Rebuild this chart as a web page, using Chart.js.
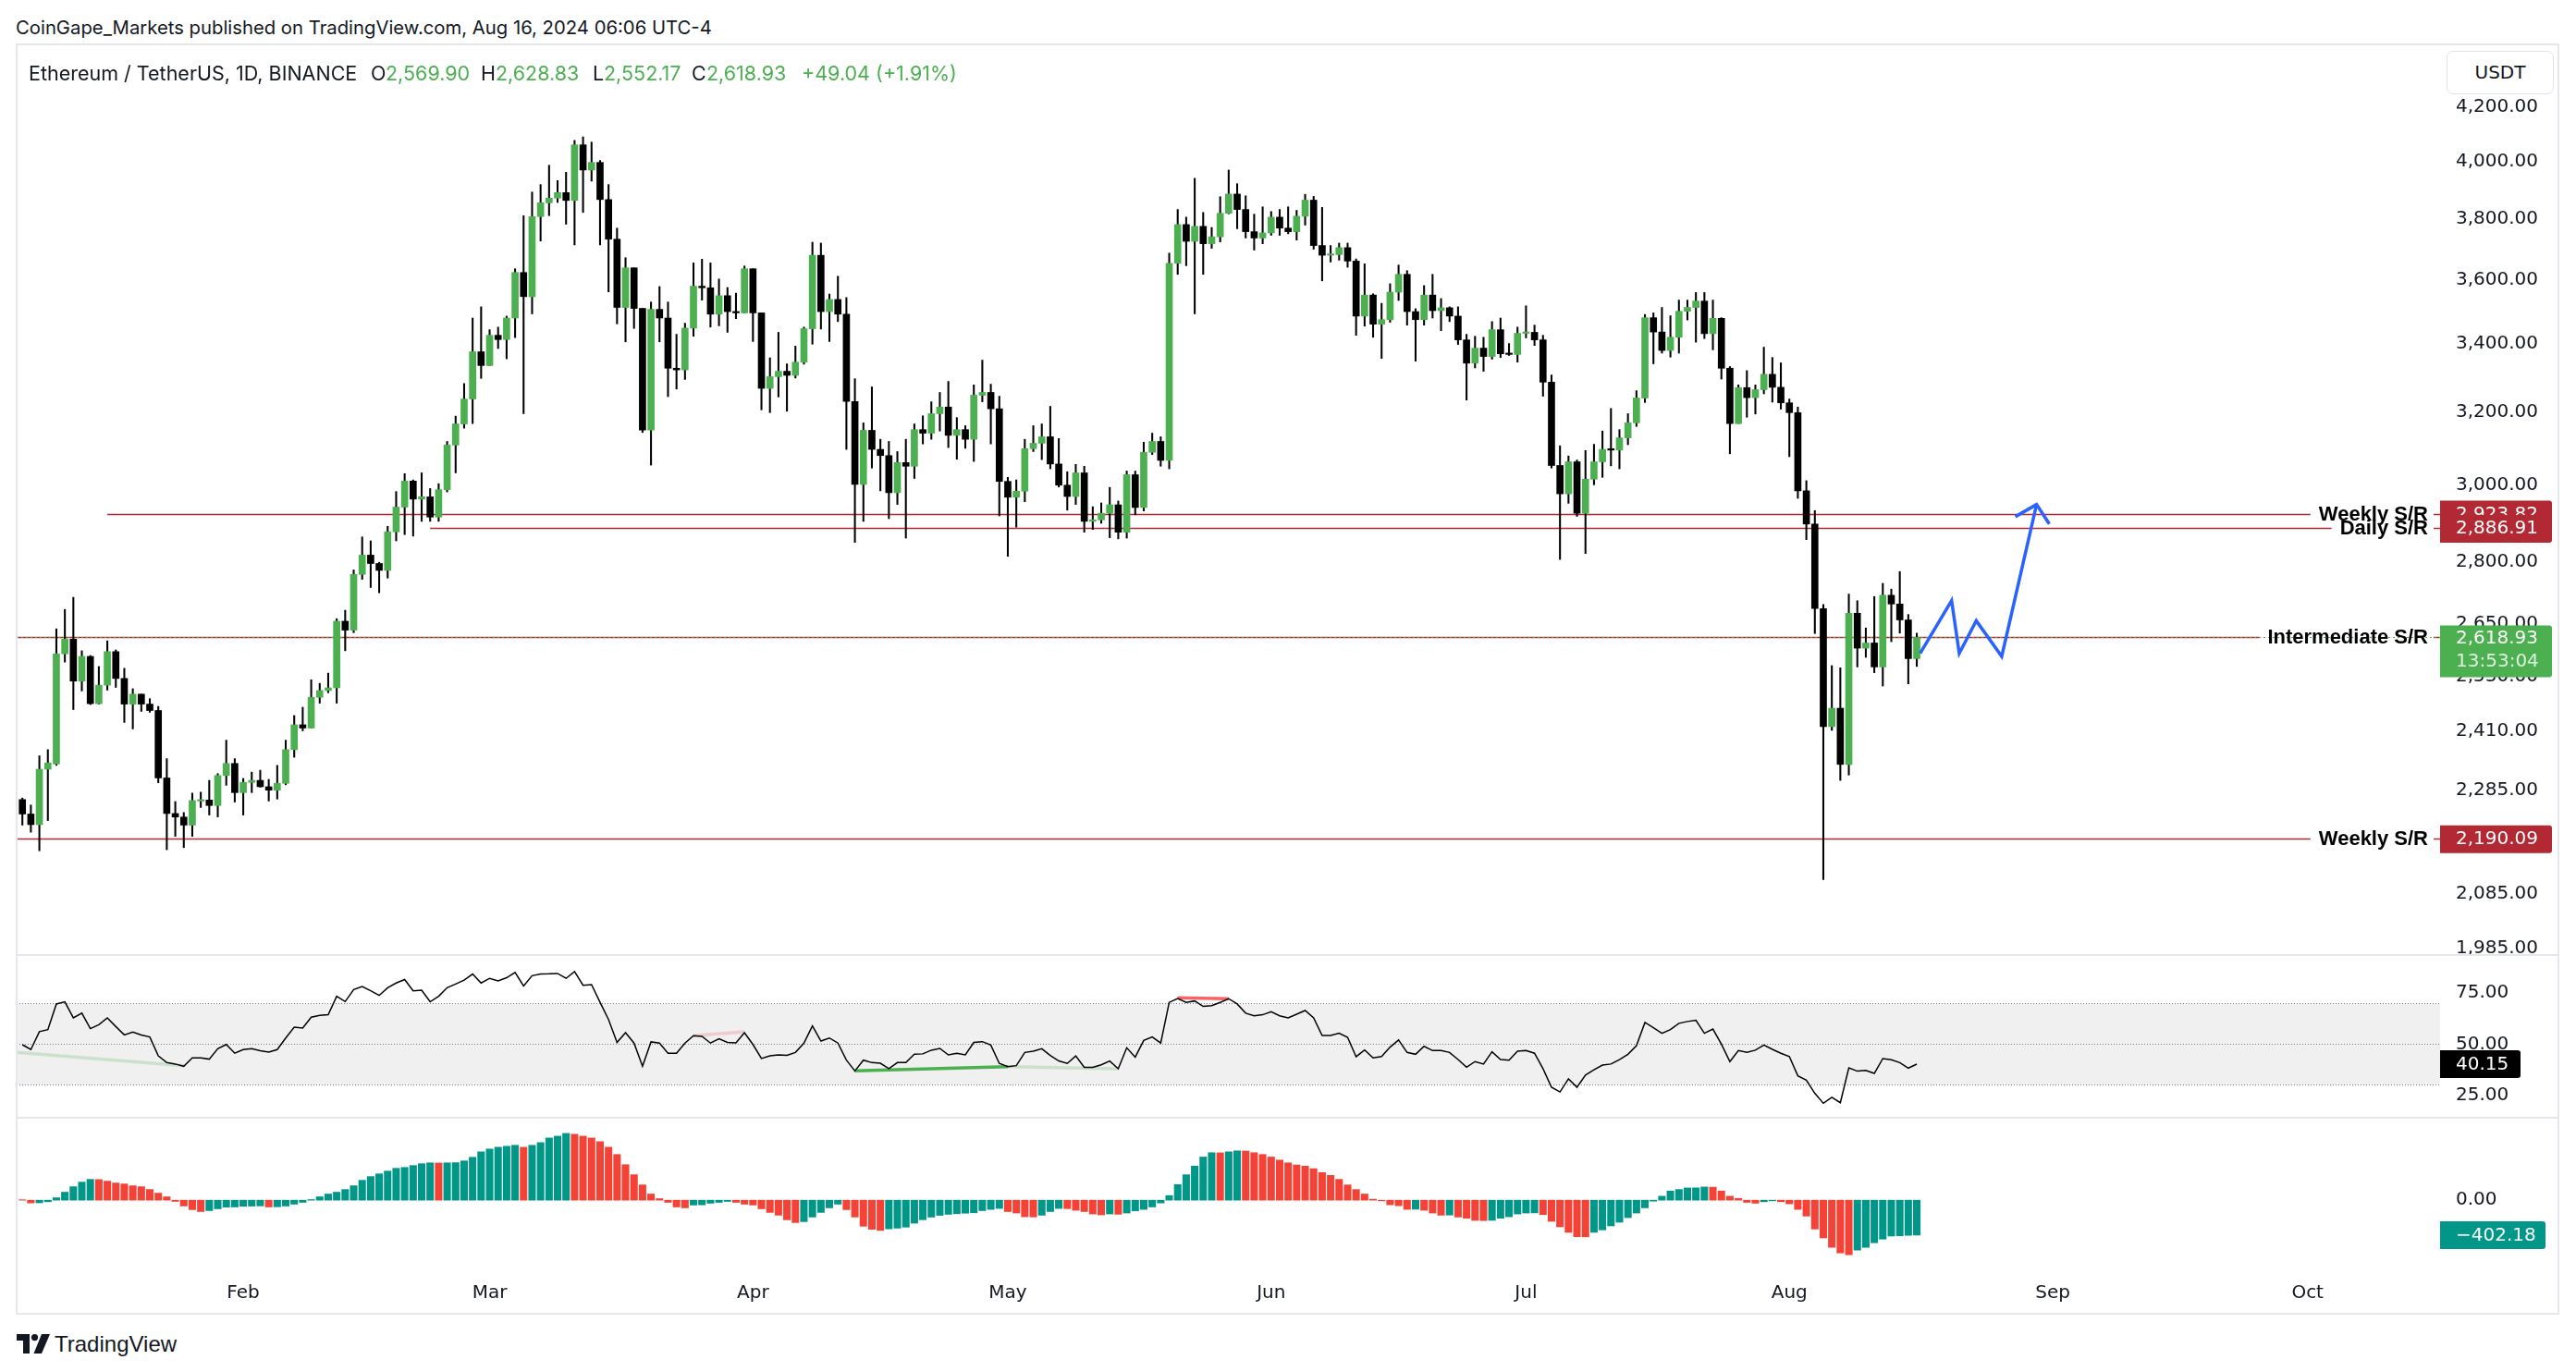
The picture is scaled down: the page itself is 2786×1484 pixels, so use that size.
<!DOCTYPE html>
<html>
<head>
<meta charset="utf-8">
<script src="https://cdn.jsdelivr.net/npm/chart.js@4.4.1/dist/chart.umd.min.js"></script>
<style>
  html,body{margin:0;padding:0;background:#fff;}
  body{width:2786px;height:1484px;position:relative;overflow:hidden;color:#131722;}
  canvas{position:absolute;display:block;}
  #c1{left:18px;top:48px;}
  #c2{left:18px;top:1034px;}
  #c3{left:18px;top:1210px;}
  .frame{position:absolute;left:17px;top:47px;width:2751px;height:1375px;border:2px solid #e6e7ec;box-sizing:border-box;pointer-events:none;}
  .sep{position:absolute;left:18px;width:2749px;height:2px;background:#e6e7ec;}
  .t{position:absolute;white-space:nowrap;line-height:24px;font-family:Inter,"DejaVu Sans",sans-serif;font-size:21.5px;}
  .h{font-size:20.3px;}
  .g{color:#4caf50;}
  .usdt{position:absolute;left:2646px;top:55px;width:116px;height:47px;border:1.5px solid #e0e3eb;border-radius:7px;box-sizing:border-box;
        font-family:"DejaVu Sans",sans-serif;font-size:20px;line-height:44px;text-align:center;color:#131722;background:#fff;}
  .logo{position:absolute;left:18px;top:1443px;}
  .logotext{position:absolute;left:59px;top:1440px;font-family:"Liberation Sans",Arial,sans-serif;font-size:24px;line-height:28px;color:#131722;}
</style>
</head>
<body>
<canvas id="c1" width="2749" height="985"></canvas>
<canvas id="c2" width="2749" height="175"></canvas>
<canvas id="c3" width="2749" height="211"></canvas>
<div class="sep" style="top:1032px"></div>
<div class="sep" style="top:1208px"></div>
<div class="frame"></div>

<div class="t h" style="left:17px;top:18px;">CoinGape_Markets published on TradingView.com, Aug 16, 2024 06:06 UTC-4</div>
<div class="t" style="left:31px;top:67px;">Ethereum / TetherUS, 1D, BINANCE</div>
<div class="t" style="left:401px;top:67px;">O</div><div class="t g" style="left:417px;top:67px;">2,569.90</div>
<div class="t" style="left:520px;top:67px;">H</div><div class="t g" style="left:536px;top:67px;">2,628.83</div>
<div class="t" style="left:641px;top:67px;">L</div><div class="t g" style="left:653px;top:67px;">2,552.17</div>
<div class="t" style="left:748px;top:67px;">C</div><div class="t g" style="left:764px;top:67px;">2,618.93</div>
<div class="t g" style="left:867px;top:67px;">+49.04 (+1.91%)</div>
<div class="usdt">USDT</div>

<svg class="logo" width="36" height="22" viewBox="0 0 36 22">
  <path d="M0 0 H14 V21 H7 V7 H0 Z" fill="#131722"/>
  <circle cx="19.5" cy="3.6" r="3.6" fill="#131722"/>
  <path d="M27 0 H36 L27 21 H18.5 Z" fill="#131722"/>
</svg>
<div class="logotext">TradingView</div>

<script>
// ---------------- DATA ----------------
// Daily candles, ETH/USDT (Binance), 6 Jan 2024 .. 16 Aug 2024, index 0 = 6 Jan
const open = [
2267,2238,2217,2329,2340,2581,2615,2519,2575,2469,
2510,2586,2525,2468,2490,2468,2454,2311,2239,2232,
2216,2264,2266,2255,2316,2341,2281,2302,2306,2293,
2286,2300,2370,2423,2416,2483,2498,2504,2657,2636,
2770,2818,2797,2780,2877,2941,3010,2962,2968,2915,
2987,3108,3167,3238,3377,3336,3427,3414,3480,3624,
3547,3809,3856,3872,3891,3864,4060,3970,3997,3867,
3733,3513,3639,3510,3150,3507,3480,3328,3323,3449,
3580,3575,3492,3550,3500,3496,3636,3496,3269,3303,
3319,3307,3346,3447,3680,3500,3538,3492,3231,3001,
3149,3096,3079,2979,3060,3050,3151,3141,3196,3215,
3135,3151,3124,3249,3257,3210,3009,2967,2983,3098,
3113,3131,3056,2999,2969,3032,2904,2908,2925,2947,
2876,3027,2940,3088,3118,3066,3654,3782,3726,3776,
3718,3741,3820,3886,3833,3758,3737,3754,3807,3770,
3758,3810,3865,3712,3680,3682,3705,3661,3486,3552,
3461,3475,3561,3618,3500,3475,3552,3503,3512,3486,
3413,3343,3388,3363,3444,3371,3369,3433,3436,3413,
3287,3052,2976,3062,2925,3015,3062,3096,3094,3128,
3170,3241,3481,3437,3381,3421,3501,3513,3533,3432,
3479,3328,3168,3271,3242,3265,3310,3272,3227,3199,
2984,2897,2687,2419,2459,2339,2676,2594,2606,2551,
2719,2698,2660,2569.90];
const high = [
2270,2256,2357,2370,2639,2685,2714,2588,2577,2552,
2611,2590,2548,2502,2490,2480,2463,2351,2263,2241,
2280,2282,2306,2320,2390,2351,2310,2323,2327,2308,
2337,2390,2443,2461,2522,2514,2537,2663,2683,2781,
2864,2854,2800,2891,2982,3030,3013,3032,2990,3003,
3118,3189,3283,3480,3515,3444,3452,3486,3636,3812,
3893,3919,3987,3933,3962,4076,4089,4070,4004,3919,
3770,3672,3639,3510,3530,3579,3530,3430,3464,3655,
3667,3655,3603,3576,3558,3645,3636,3496,3359,3436,
3341,3394,3452,3723,3720,3555,3612,3544,3297,3170,
3273,3124,3118,3090,3124,3167,3190,3230,3257,3289,
3185,3162,3279,3352,3281,3246,3020,3013,3124,3162,
3167,3217,3126,3035,3055,3050,2942,2952,2993,2957,
3037,3037,3116,3141,3131,3687,3833,3807,3941,3823,
3772,3877,3970,3922,3880,3817,3842,3826,3833,3842,
3830,3885,3878,3840,3712,3720,3720,3668,3652,3556,
3526,3588,3648,3630,3509,3582,3618,3541,3515,3515,
3430,3424,3421,3469,3480,3402,3452,3518,3458,3427,
3308,3106,3078,3067,3093,3110,3147,3211,3151,3196,
3262,3491,3496,3513,3487,3536,3536,3560,3560,3536,
3481,3333,3279,3321,3279,3391,3360,3344,3238,3215,
3011,2932,2697,2554,2549,2722,2706,2641,2716,2748,
2734,2777,2673,2628.83];
const low = [
2216,2202,2166,2225,2337,2562,2456,2497,2467,2468,
2499,2505,2428,2414,2452,2450,2301,2168,2194,2172,
2194,2251,2236,2232,2296,2262,2236,2281,2292,2264,
2268,2297,2354,2410,2416,2470,2493,2470,2588,2630,
2758,2738,2725,2761,2854,2870,2866,2904,2904,2904,
2981,3032,3155,3168,3298,3336,3387,3356,3420,3196,
3493,3727,3812,3857,3783,3714,3823,3931,3714,3562,
3462,3407,3448,3143,3053,3407,3245,3267,3295,3424,
3536,3452,3456,3436,3478,3496,3408,3207,3199,3244,
3203,3299,3340,3400,3446,3408,3469,3096,2850,2904,
3045,2984,2911,2948,2861,3017,3111,3124,3147,3101,
3069,3099,3063,3230,3111,2918,2815,2889,2955,3090,
3068,3043,2994,2933,2948,2876,2883,2899,2862,2859,
2861,2921,2931,3082,3050,3043,3618,3646,3493,3618,
3703,3724,3818,3768,3737,3697,3718,3746,3746,3751,
3730,3780,3700,3597,3658,3664,3641,3427,3455,3421,
3357,3467,3535,3458,3349,3458,3480,3441,3469,3399,
3235,3329,3319,3355,3360,3366,3346,3419,3396,3246,
3045,2807,2951,2917,2822,3000,3020,3051,3043,3109,
3160,3228,3341,3373,3361,3373,3474,3406,3417,3383,
3296,3084,3168,3186,3195,3253,3229,3209,3076,2964,
2857,2628,2111,2411,2306,2317,2551,2573,2538,2508,
2609,2629,2513,2552.17];
const close = [
2238,2217,2329,2342,2581,2615,2519,2575,2469,2510,
2586,2525,2468,2490,2468,2454,2311,2239,2232,2216,
2265,2266,2255,2316,2341,2281,2302,2306,2293,2286,
2300,2370,2423,2416,2483,2498,2504,2657,2636,2770,
2818,2797,2780,2877,2941,3010,2962,2968,2915,2987,
3108,3167,3238,3377,3336,3427,3414,3480,3624,3547,
3809,3856,3872,3891,3864,4060,3970,3997,3867,3733,
3513,3639,3510,3150,3507,3480,3328,3323,3449,3580,
3575,3492,3550,3500,3496,3636,3496,3269,3303,3319,
3307,3346,3447,3680,3500,3538,3492,3231,3001,3149,
3096,3079,2979,3060,3050,3151,3141,3196,3215,3135,
3151,3124,3249,3257,3210,3009,2967,2983,3098,3113,
3131,3056,2999,2969,3032,2904,2908,2925,2947,2876,
3027,2940,3088,3118,3066,3654,3782,3726,3776,3718,
3741,3820,3886,3833,3758,3737,3754,3807,3770,3758,
3810,3865,3712,3680,3682,3705,3661,3486,3552,3461,
3475,3561,3618,3500,3475,3552,3503,3512,3486,3413,
3343,3388,3363,3444,3371,3369,3433,3436,3413,3287,
3052,2976,3062,2925,3015,3062,3096,3094,3128,3170,
3241,3481,3437,3381,3421,3501,3513,3533,3432,3479,
3328,3168,3271,3242,3265,3310,3272,3227,3199,2984,
2897,2687,2419,2459,2339,2676,2594,2606,2551,2719,
2698,2660,2569.90,2618.93];

// RSI(14)
const rsi = [
49.7,47.3,56.1,57.1,69.7,70.8,62.9,65.2,57.6,59.5,
62.9,58.6,54.5,55.9,54.5,53.5,44.2,40.9,40.2,39.1,
43.2,43.2,42.6,47.7,49.8,45.5,47.3,47.7,46.7,46.1,
47.3,53.0,58.3,57.9,63.2,64.1,64.4,73.5,70.9,76.8,
78.3,76.2,73.9,77.7,80.0,81.7,76.2,76.5,70.8,73.5,
77.7,79.5,81.4,84.4,80.0,82.3,81.1,82.6,85.2,78.6,
83.6,84.4,84.5,84.7,82.3,85.6,78.9,79.2,70.5,62.1,
50.8,55.6,50.5,39.1,51.1,50.5,45.5,45.5,50.5,54.1,
53.8,50.5,52.6,50.8,50.6,55.6,49.8,42.9,44.2,44.7,
44.5,45.9,50.5,58.9,51.5,53.0,50.5,42.1,36.8,42.1,
40.9,40.6,37.9,40.9,40.9,45.0,45.2,47.0,47.9,44.7,
45.5,44.7,50.8,51.2,49.5,40.5,38.9,39.4,45.9,46.5,
47.7,44.4,41.7,40.5,44.2,38.6,38.6,39.8,41.7,37.9,
48.2,43.6,51.8,53.5,50.5,70.5,72.4,70.5,71.2,68.5,
68.9,70.5,72.3,69.7,65.2,63.9,64.4,65.9,63.9,62.9,
64.7,66.5,62.9,54.2,54.2,55.3,53.3,43.8,47.1,43.2,
43.9,48.5,52.0,45.9,45.0,48.9,46.8,46.8,45.9,42.4,
38.6,41.4,40.2,46.2,42.4,42.1,46.5,46.8,45.5,37.9,
28.8,26.5,32.9,28.8,34.8,37.4,39.7,40.2,42.4,45.0,
49.2,60.6,58.0,55.3,57.1,60.2,61.1,61.7,55.3,57.4,
50.0,41.4,46.8,45.9,47.0,49.5,47.4,45.5,43.9,34.4,
32.3,25.8,20.9,23.8,21.2,38.3,36.7,37.1,35.6,42.9,
42.3,40.9,38.2,40.15];

// Awesome Oscillator histogram
const ao = [
5,-32,-30,-18,28,92,155,208,240,238,
219,198,187,166,155,123,81,39,-14,-67,
-109,-131,-120,-99,-80,-78,-70,-68,-66,-78,
-76,-67,-46,-25,7,39,71,92,123,166,
229,272,303,335,367,377,399,420,430,428,
430,432,452,494,557,589,610,621,632,610,
632,663,716,737,769,759,737,716,674,610,
526,409,293,176,71,18,-25,-78,-88,-56,
-54,-35,-25,-14,-25,-46,-56,-99,-141,-173,
-226,-258,-247,-194,-141,-88,-46,-109,-194,-300,
-335,-348,-330,-322,-310,-265,-225,-195,-175,-163,
-156,-150,-145,-120,-106,-95,-131,-148,-191,-193,
-173,-131,-95,-97,-116,-131,-159,-169,-159,-162,
-148,-123,-106,-78,-32,53,180,293,392,497,
547,545,557,568,566,547,526,497,462,430,
406,392,363,318,286,240,176,123,71,11,
-7,-53,-64,-106,-104,-116,-148,-173,-171,-194,
-208,-233,-235,-232,-208,-191,-159,-148,-146,-166,
-243,-307,-370,-420,-422,-370,-342,-296,-254,-201,
-148,-88,-11,46,106,123,141,142,152,150,
106,46,21,-25,-35,-18,-7,-18,-42,-106,
-183,-332,-434,-543,-607,-628,-575,-543,-490,-448,
-413,-410,-405,-402.18];

// axis ticks
const priceTicks = [4200,4000,3800,3600,3400,3200,3000,2800,2650,2530,2410,2285,2085,1985];
const rsiTicks = [75,50,25];
const aoTicks = [0];
const monthIdx = [26,55,86,116,147,177,208,239,269];
const monthLabels = ['Feb','Mar','Apr','May','Jun','Jul','Aug','Sep','Oct'];

// horizontal support / resistance drawings
const srLevels = [2923.82, 2886.91, 2619, 2190.09];
const srNames  = ['Weekly S/R','Daily S/R','Intermediate S/R','Weekly S/R'];
const srFrom   = [10, 48, -1, -1];

// projection path drawing (day index, price)
const projX = [223.4, 227.1, 228.0, 230.0, 233.0, 237.1];
const projY = [2582, 2706, 2582, 2658, 2575, 2948];
const headX = [234.6, 237.1, 238.6];
const headY = [2916, 2948, 2897];

// RSI levels and divergence lines
const rsiBand = [70, 50, 30];
const divX0 = [-1, 79, 98, 116, 136];
const divY0 = [46.1, 54.1, 36.8, 38.9, 72.7];
const divX1 = [19, 85, 116, 129, 142];
const divY1 = [39.3, 56.1, 38.9, 37.9, 72.3];

// last values shown on the scales
const lastPrice = 2618.93, countdown = '13:53:04', lastRsi = 40.15, lastAo = -402.18;

// ---------------- STYLE ----------------
const X_MIN = -0.675, X_MAX = 284.6;
const AXIS_W = 128;
const GREEN = '#4caf50', BLACK = '#000000', SR_RED = '#b22833', TEAL = '#009688', AO_RED = '#f44336', BLUE = '#2962ff';
const AXFONT = {family:'"DejaVu Sans"', size:20};
const divColors = ['rgba(76,175,80,0.22)','rgba(242,54,69,0.2)','#4caf50','rgba(76,175,80,0.22)','rgba(247,82,82,0.9)'];
const fmt2 = v => Number(v).toLocaleString('en-US',{minimumFractionDigits:2, maximumFractionDigits:2});

function yAxis(extra){
  return Object.assign({
    position:'right', offset:false,
    grid:{display:false, drawTicks:false}, border:{display:false},
    afterFit: s => { s.width = AXIS_W; s.paddingTop = 0; s.paddingBottom = 0; s.paddingLeft = 0; s.paddingRight = 0; },
    ticks:{font:AXFONT, color:'#131722', padding:17, crossAlign:'near', autoSkip:false, callback: v => fmt2(v)}
  }, extra);
}
const hiddenX = {type:'linear', min:X_MIN, max:X_MAX, display:false, offset:false};
const base = {
  responsive:false, animation:false, devicePixelRatio:1,
  layout:{padding:0},
  plugins:{legend:{display:false}, tooltip:{enabled:false}}
};

function roundRect(ctx, x, y, w, h, r){
  ctx.beginPath();
  ctx.moveTo(x, y + h); ctx.lineTo(x, y);
  ctx.lineTo(x + w - r, y); ctx.quadraticCurveTo(x + w, y, x + w, y + r);
  ctx.lineTo(x + w, y + h - r); ctx.quadraticCurveTo(x + w, y + h, x + w - r, y + h);
  ctx.closePath();
}
function badge(ctx, x, top, w, h, bg, lines){
  ctx.save();
  ctx.fillStyle = bg; roundRect(ctx, x, top, w, h, 3); ctx.fill();
  ctx.font = '20px "DejaVu Sans"'; ctx.textAlign = 'left'; ctx.textBaseline = 'middle';
  lines.forEach(l => { ctx.fillStyle = l.c; ctx.fillText(l.t, x + 17, l.y); });
  ctx.restore();
}

// ---------------- PRICE PANE ----------------
const idx = open.map((_, i) => i);
const srPlugin = {
  id:'sr',
  beforeDatasetsDraw(chart){
    const {ctx, chartArea:a, scales:{x, y}} = chart;
    ctx.save();
    ctx.font = 'bold 22px "Liberation Sans"';
    srLevels.forEach((lv, k) => {
      const py = Math.round(y.getPixelForValue(lv)) + 0.5;
      const x0 = Math.max(a.left, x.getPixelForValue(srFrom[k]));
      const tw = ctx.measureText(srNames[k]).width;
      const tr = a.right - 13, tl = tr - tw;
      ctx.strokeStyle = SR_RED; ctx.lineWidth = 1.3;
      ctx.beginPath(); ctx.moveTo(x0, py); ctx.lineTo(tl - 9, py);
      ctx.moveTo(tr + 6, py); ctx.lineTo(a.right, py); ctx.stroke();
    });
    const cp = Math.round(y.getPixelForValue(lastPrice)) + 0.5;
    ctx.setLineDash([2, 3]); ctx.strokeStyle = GREEN; ctx.lineWidth = 1;
    ctx.beginPath(); ctx.moveTo(a.left, cp); ctx.lineTo(a.right, cp); ctx.stroke();
    ctx.restore();
  },
  afterDatasetsDraw(chart){
    const {ctx, chartArea:a, scales:{y}} = chart;
    ctx.save();
    ctx.font = 'bold 22px "Liberation Sans"'; ctx.fillStyle = '#000';
    ctx.textAlign = 'right'; ctx.textBaseline = 'middle';
    srLevels.forEach((lv, k) => ctx.fillText(srNames[k], a.right - 13, y.getPixelForValue(lv) + 1));
    ctx.restore();
  },
  afterDraw(chart){
    const {ctx, chartArea:a, scales:{y}} = chart;
    const x = a.right;
    [0, 1, 3].forEach(k => {
      const py = y.getPixelForValue(srLevels[k]);
      badge(ctx, x, py - 14, 121, 30, SR_RED, [{t:fmt2(srLevels[k]), y:py + 1, c:'#fff'}]);
    });
    const cp = y.getPixelForValue(lastPrice);
    badge(ctx, x, cp - 13, 121, 56, GREEN, [{t:fmt2(lastPrice), y:cp + 1, c:'#fff'}, {t:countdown, y:cp + 26, c:'rgba(255,255,255,0.82)'}]);
  }
};

new Chart(document.getElementById('c1'), {
  type:'bar',
  data:{datasets:[
    {type:'bar', data: idx.map(i => ({x:i, y:[low[i], high[i]]})), backgroundColor:BLACK, barThickness:1.4, grouped:false, order:3},
    {type:'bar', data: idx.map(i => ({x:i, y:[open[i], close[i]]})), backgroundColor: idx.map(i => close[i] >= open[i] ? GREEN : BLACK),
      barThickness:7, minBarLength:1.5, grouped:false, order:2},
    {type:'line', data: projX.map((v, k) => ({x:v, y:projY[k]})), borderColor:BLUE, borderWidth:3.5, pointRadius:0, tension:0, order:1},
    {type:'line', data: headX.map((v, k) => ({x:v, y:headY[k]})), borderColor:BLUE, borderWidth:3.5, pointRadius:0, tension:0, order:1}
  ]},
  options: Object.assign({}, base, {
    scales:{
      x: hiddenX,
      y: yAxis({type:'logarithmic', min:1974.0, max:4439.8,
        afterBuildTicks: s => { s.ticks = priceTicks.map(v => ({value:v})); }})
    }
  }),
  plugins:[srPlugin]
});

// ---------------- RSI PANE ----------------
const rsiPlugin = {
  id:'rsiBand',
  beforeDatasetsDraw(chart){
    const {ctx, chartArea:a, scales:{y}} = chart;
    const t = y.getPixelForValue(rsiBand[0]), b = y.getPixelForValue(rsiBand[2]);
    ctx.save();
    ctx.fillStyle = '#f0f0f0'; ctx.fillRect(a.left, t, a.right - a.left, b - t);
    ctx.strokeStyle = '#787b86'; ctx.lineWidth = 1; ctx.setLineDash([1, 2]);
    rsiBand.forEach(v => {
      const py = Math.round(y.getPixelForValue(v)) + 0.5;
      ctx.beginPath(); ctx.moveTo(a.left, py); ctx.lineTo(a.right, py); ctx.stroke();
    });
    ctx.restore();
  },
  afterDraw(chart){
    const {ctx, chartArea:a, scales:{y}} = chart;
    const py = y.getPixelForValue(lastRsi);
    badge(ctx, a.right, py - 15, 87, 30, '#000', [{t:fmt2(lastRsi), y:py + 1, c:'#fff'}]);
  }
};
const divSets = divX0.map((x0, k) => ({
  type:'line', data:[{x:x0, y:divY0[k]}, {x:divX1[k], y:divY1[k]}],
  borderColor:divColors[k], borderWidth:3.5, pointRadius:0, order:2
}));
new Chart(document.getElementById('c2'), {
  type:'line',
  data:{datasets:[
    {data: idx.map(i => ({x:i, y:rsi[i]})), borderColor:'#000', borderWidth:1.5, pointRadius:0, tension:0, order:1}
  ].concat(divSets)},
  options: Object.assign({}, base, {
    scales:{
      x: hiddenX,
      y: yAxis({type:'linear', min:13.8, max:93.3,
        afterBuildTicks: s => { s.ticks = rsiTicks.map(v => ({value:v})); }})
    }
  }),
  plugins:[rsiPlugin]
});

// ---------------- AO PANE + TIME AXIS ----------------
const aoPlugin = {
  id:'aoBadge',
  afterDraw(chart){
    const {ctx, chartArea:a, scales:{y}} = chart;
    const py = y.getPixelForValue(lastAo);
    badge(ctx, a.right, py - 15, 114, 30, TEAL, [{t:'\u2212' + fmt2(Math.abs(lastAo)), y:py + 1, c:'#fff'}]);
  }
};
new Chart(document.getElementById('c3'), {
  type:'bar',
  data:{datasets:[
    {data: idx.map(i => ({x:i, y:ao[i]})),
     backgroundColor: idx.map(i => (i > 0 && ao[i] > ao[i - 1]) ? TEAL : AO_RED),
     barThickness:7.4, grouped:false}
  ]},
  options: Object.assign({}, base, {
    scales:{
      x:{type:'linear', min:X_MIN, max:X_MAX, offset:false, position:'bottom',
         grid:{display:false, drawTicks:false}, border:{display:false},
         afterBuildTicks: s => { s.ticks = monthIdx.map(v => ({value:v})); },
         afterFit: s => { s.height = 46; s.paddingLeft = 0; s.paddingRight = 0; },
         ticks:{font:AXFONT, color:'#131722', padding:12, autoSkip:false, maxRotation:0, minRotation:0,
                callback:(v, i) => monthLabels[i]}},
      y: yAxis({type:'linear', min:-817.8, max:938.4,
        afterBuildTicks: s => { s.ticks = aoTicks.map(v => ({value:v})); }})
    }
  }),
  plugins:[aoPlugin]
});
</script>
</body>
</html>
